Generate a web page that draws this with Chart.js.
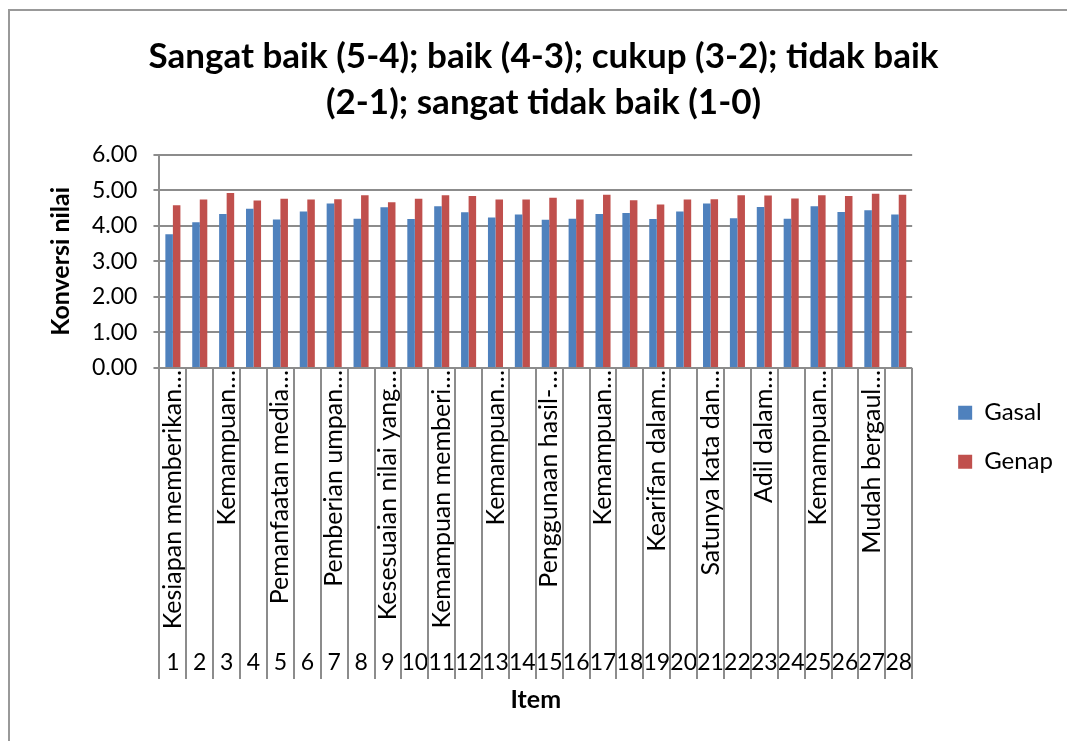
<!DOCTYPE html>
<html lang="id">
<head>
<meta charset="UTF-8" />
<title>Konversi nilai per item</title>
<script src="https://cdn.jsdelivr.net/npm/chart.js"></script>
<style>
  html, body { margin: 0; background: #fff; }
  #wrap { width: 1067px; height: 741px; }
</style>
</head>
<body>
<div id="wrap"><canvas id="nilaiChart" width="1067" height="741"></canvas></div>
<script>
const items = ['1','2','3','4','5','6','7','8','9','10','11','12','13','14',
  '15','16','17','18','19','20','21','22','23','24','25','26','27','28'];
const itemNames = ['Kesiapan memberikan…', '', 'Kemampuan…', '', 'Pemanfaatan media…', '',
  'Pemberian umpan…', '', 'Kesesuaian nilai yang…', '', 'Kemampuan memberi…', '',
  'Kemampuan…', '', 'Penggunaan hasil-…', '', 'Kemampuan…', '', 'Kearifan dalam…', '',
  'Satunya kata dan…', '', 'Adil dalam…', '', 'Kemampuan…', '', 'Mudah bergaul…', ''];
const gasal = [3.76, 4.10, 4.33, 4.48, 4.18, 4.40, 4.63, 4.20, 4.52, 4.19, 4.55, 4.38, 4.23, 4.32,
  4.17, 4.20, 4.33, 4.36, 4.19, 4.40, 4.63, 4.21, 4.53, 4.20, 4.55, 4.39, 4.44, 4.32];
const genap = [4.58, 4.74, 4.92, 4.71, 4.76, 4.74, 4.75, 4.86, 4.66, 4.76, 4.86, 4.84, 4.74, 4.74,
  4.79, 4.74, 4.87, 4.72, 4.60, 4.74, 4.75, 4.86, 4.85, 4.77, 4.86, 4.84, 4.90, 4.87];
const titleLines = ['Sangat baik (5-4); baik (4-3); cukup (3-2); tidak baik',
  '(2-1); sangat tidak baik (1-0)'];

const FONT = 'Lato, "Liberation Sans", sans-serif';
const GRID = '#8c8c8c';

// frame round the chart + category separators under the axis
const frameAndSeparators = {
  id: 'frameAndSeparators',
  beforeDraw(chart) {
    const ctx = chart.ctx;
    ctx.save();
    ctx.strokeStyle = '#999';
    ctx.lineWidth = 2;
    ctx.strokeRect(9, 10, chart.width + 20, chart.height + 20);
    ctx.restore();
  },
  afterDraw(chart) {
    const { ctx, chartArea, scales } = chart;
    const x = scales.x, x2 = scales.x2;
    const half = (x.getPixelForValue(1) - x.getPixelForValue(0)) / 2;
    ctx.save();
    ctx.strokeStyle = GRID;
    ctx.lineWidth = 2;
    ctx.beginPath();
    for (let i = 0; i <= items.length; i++) {
      const px = Math.round(x.getPixelForValue(i) - half);
      ctx.moveTo(px, chartArea.bottom);
      ctx.lineTo(px, x2.top + 39);
    }
    ctx.stroke();
    ctx.restore();
  }
};

const ctx = document.getElementById('nilaiChart').getContext('2d');
new Chart(ctx, {
  type: 'bar',
  data: {
    labels: items,
    datasets: [
      { label: 'Gasal', data: gasal, backgroundColor: '#4F81BD', borderWidth: 0 },
      { label: 'Genap', data: genap, backgroundColor: '#C0504D', borderWidth: 0 }
    ]
  },
  options: {
    responsive: false,
    animation: false,
    categoryPercentage: 0.56,
    barPercentage: 1,
    layout: { padding: { left: 24, right: 4, top: 0, bottom: 26 } },
    scales: {
      x: {
        position: 'bottom',
        grid: { display: false, drawTicks: false, tickLength: 0 },
        border: { display: false },
        ticks: {
          autoSkip: false, minRotation: 90, maxRotation: 90, padding: 2,
          color: '#000', font: { family: FONT, size: 25 },
          callback: (v, i) => itemNames[i]
        },
        afterFit: s => { s.height = 272; }
      },
      x2: {
        position: 'bottom',
        grid: { display: false, drawTicks: false, tickLength: 0 },
        border: { display: false },
        ticks: {
          autoSkip: false, maxRotation: 0, padding: 9,
          color: '#000', font: { family: FONT, size: 23 },
          callback: (v, i) => items[i]
        },
        title: { display: true, text: 'Item', color: '#000', padding: { top: 8, bottom: 0 },
          font: { family: FONT, size: 25, weight: 'bold' } },
        afterFit: s => { s.height = 75; }
      },
      y: {
        min: 0, max: 6,
        grid: { color: GRID, lineWidth: 2, tickLength: 6 },
        border: { color: GRID, width: 2 },
        ticks: {
          stepSize: 1, padding: 16, color: '#000',
          font: { family: FONT, size: 23 },
          callback: v => v.toFixed(2)
        },
        title: { display: true, text: 'Konversi nilai', color: '#000', padding: { top: 22, bottom: 0 },
          font: { family: FONT, size: 25, weight: 'bold' } }
      },
      gap: {
        position: 'right',
        display: true,
        grid: { display: false },
        border: { display: false },
        ticks: { display: false },
        afterFit: s => { s.width = 21; }
      }
    },
    plugins: {
      title: {
        display: true, text: titleLines, color: '#000',
        font: { family: FONT, size: 35, weight: 'bold', lineHeight: 1.31 },
        padding: { top: 34, bottom: 29 }
      },
      legend: {
        position: 'right',
        title: { display: true, text: ' ', font: { size: 12 }, padding: { top: 145, bottom: 0 } },
        labels: {
          boxWidth: 14, boxHeight: 14, padding: 25, color: '#000',
          font: { family: FONT, size: 24 }
        }
      },
      tooltip: { enabled: false }
    }
  },
  plugins: [frameAndSeparators]
});
</script>
</body>
</html>
